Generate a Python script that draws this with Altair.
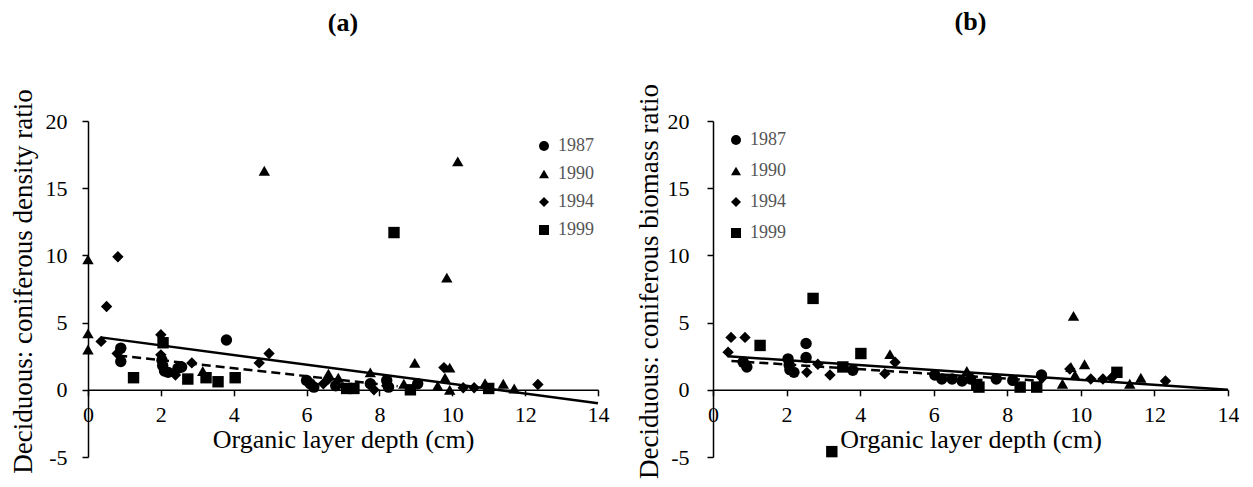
import altair as alt
import pandas as pd

years = ["1987", "1990", "1994", "1999"]
shapes = ["circle", "triangle-up", "diamond", "square"]

# ---- Panel (a): density ratio ----
a_1987_x = [0.9, 0.9, 3.8, 2.03, 2.05, 2.1, 2.2, 2.47, 2.57, 6.0, 6.1, 6.2, 6.8, 7.75, 8.2, 8.25, 9.05]
a_1987_y = [3.1, 2.1, 3.7, 2.2, 1.8, 1.4, 1.3, 1.6, 1.7, 0.7, 0.45, 0.2, 0.3, 0.45, 0.7, 0.2, 0.45]
a_1990_x = [0, 0, 0, 4.84, 10.15, 9.85, 3.15, 6.6, 6.87, 7.75, 8.67, 8.97, 9.93, 9.8, 9.6, 9.93, 10.9, 11.4, 11.7]
a_1990_y = [9.7, 4.2, 3.0, 16.3, 17.0, 8.35, 1.4, 1.2, 0.9, 1.3, 0.45, 2.0, 1.65, 0.9, 0.3, 0.0, 0.5, 0.45, 0.1]
a_1994_x = [0.82, 0.51, 0.36, 0.8, 2.0, 2.0, 2.4, 2.85, 4.97, 4.7, 6.46, 6.6, 7.85, 8.2, 9.77, 10.3, 10.6, 12.35]
a_1994_y = [9.9, 6.2, 3.6, 2.7, 4.1, 2.6, 1.1, 2.0, 2.7, 2.0, 0.45, 0.8, 0.0, 0.3, 1.65, 0.15, 0.15, 0.4]
a_1999_x = [2.06, 1.25, 2.74, 3.24, 3.57, 4.04, 8.4, 7.1, 7.3, 8.85, 11.0]
a_1999_y = [3.5, 0.9, 0.8, 0.9, 0.6, 0.9, 11.7, 0.1, 0.1, 0.0, 0.1]
a_solid_x = [0.35, 14]
a_solid_y = [3.9, -1.0]
a_dash_x = [0.83, 8.5]
a_dash_y = [2.55, 0.27]

# ---- Panel (b): biomass ratio ----
b_1987_x = [0.82, 0.92, 2.04, 2.07, 2.09, 2.2, 2.53, 2.53, 3.8, 6.03, 6.22, 6.5, 6.77, 7.0, 7.7, 8.15, 8.93]
b_1987_y = [2.06, 1.7, 2.3, 1.84, 1.5, 1.3, 3.45, 2.4, 1.45, 1.1, 0.8, 0.8, 0.65, 0.8, 0.8, 0.7, 1.1]
b_1990_x = [4.81, 6.9, 9.5, 9.73, 9.84, 9.8, 10.1, 11.33, 11.63]
b_1990_y = [2.65, 1.4, 0.45, 1.7, 1.1, 5.5, 1.9, 0.45, 0.9]
b_1994_x = [0.49, 0.87, 0.41, 2.55, 2.85, 3.18, 4.67, 4.95, 9.7, 10.27, 10.6, 10.84, 12.3, 8.95]
b_1994_y = [3.9, 3.9, 2.8, 1.3, 1.9, 1.1, 1.2, 2.05, 1.55, 0.8, 0.8, 0.9, 0.65, 0.9]
b_1999_x = [1.28, 2.72, 3.23, 4.02, 3.53, 7.17, 7.23, 8.35, 8.8, 10.98]
b_1999_y = [3.3, 6.8, -4.6, 2.7, 1.7, 0.4, 0.2, 0.2, 0.2, 1.3]
b_solid_x = [0.4, 14]
b_solid_y = [2.5, 0.0]
b_dash_x = [0.5, 9.0]
b_dash_y = [2.15, 0.65]

x_ticks = [0, 2, 4, 6, 8, 10, 12, 14]
y_ticks = [-5, 0, 5, 10, 15, 20]

FONT = "Liberation Serif"
H = 336


def points_df(series):
    rows = []
    for yr, xs, ys in series:
        for xv, yv in zip(xs, ys):
            rows.append({"depth": xv, "ratio": yv, "year": yr})
    return pd.DataFrame(rows)


def line_df(xs, ys):
    return pd.DataFrame({"depth": xs, "ratio": ys})


def panel(pts, solid, dash, title, ytitle, w, lx, ly, rowpad, ylabpad, ytitlepad, toff):
    xsc = alt.Scale(domain=[0, 14], nice=False, zero=False)
    ysc = alt.Scale(domain=[-5, 20], nice=False, zero=False)
    xax = alt.Axis(values=x_ticks, title="Organic layer depth (cm)",
                   offset=-H * 5 / 25, labelPadding=9, titlePadding=1)
    yax = alt.Axis(values=y_ticks, title=ytitle, labelPadding=ylabpad,
                   titlePadding=ytitlepad, labelExpr="'' + datum.value",
                   titleFontSize=27, titleY=H / 2 - 8)
    leg = alt.Legend(orient="none", legendX=lx, legendY=ly, title=None,
                     rowPadding=rowpad)
    p = alt.Chart(pts).mark_point(filled=True, opacity=1, size=130, color="black").encode(
        x=alt.X("depth:Q", scale=xsc, axis=xax),
        y=alt.Y("ratio:Q", scale=ysc, axis=yax),
        shape=alt.Shape("year:N", scale=alt.Scale(domain=years, range=shapes), legend=leg),
    )
    s = alt.Chart(solid).mark_line(color="black", strokeWidth=2.5).encode(
        x=alt.X("depth:Q", scale=xsc, axis=xax), y=alt.Y("ratio:Q", scale=ysc, axis=yax))
    d = alt.Chart(dash).mark_line(color="black", strokeWidth=2.5, strokeDash=[9, 5]).encode(
        x=alt.X("depth:Q", scale=xsc, axis=xax), y=alt.Y("ratio:Q", scale=ysc, axis=yax))
    return alt.layer(p, s, d).properties(
        width=w, height=H,
        title=alt.TitleParams(title, font=FONT, fontSize=26, fontWeight="bold",
                              color="black", anchor="middle", frame="group",
                              offset=toff))


pa = points_df([("1987", a_1987_x, a_1987_y), ("1990", a_1990_x, a_1990_y),
                ("1994", a_1994_x, a_1994_y), ("1999", a_1999_x, a_1999_y)])
pb = points_df([("1987", b_1987_x, b_1987_y), ("1990", b_1990_x, b_1990_y),
                ("1994", b_1994_x, b_1994_y), ("1999", b_1999_x, b_1999_y)])

chart_a = panel(pa, line_df(a_solid_x, a_solid_y), line_df(a_dash_x, a_dash_y), "(a)",
                "Deciduous: coniferous density ratio", 510, 447, 16, 10, 15, 8, 53)
chart_b = panel(pb, line_df(b_solid_x, b_solid_y), line_df(b_dash_x, b_dash_y), "(b)",
                "Deciduous: coniferous biomass ratio", 515, 14, 10, 13, 18, 4, 48)

chart = alt.hconcat(chart_a, chart_b, spacing=115, bounds="flush").resolve_scale(
    shape="independent", x="independent", y="independent"
).resolve_legend(shape="independent").properties(
    padding={"left": 1, "top": 1, "right": 0, "bottom": 0}
).configure_view(stroke=None).configure_axis(
    grid=False, labelFlush=False, tickSize=6, labelFont=FONT, labelFontSize=22,
    titleFont=FONT, titleFontSize=26, titleFontWeight="normal", domainColor="black",
    tickColor="black", labelColor="black", titleColor="black", domainWidth=1.5,
    tickWidth=1.5
).configure_legend(
    labelFont=FONT, labelFontSize=18, labelColor="#555555", symbolSize=100,
    padding=0, labelOffset=5, symbolStrokeWidth=0
)

chart.save("out.html", embed_options={"renderer": "svg", "actions": False})
